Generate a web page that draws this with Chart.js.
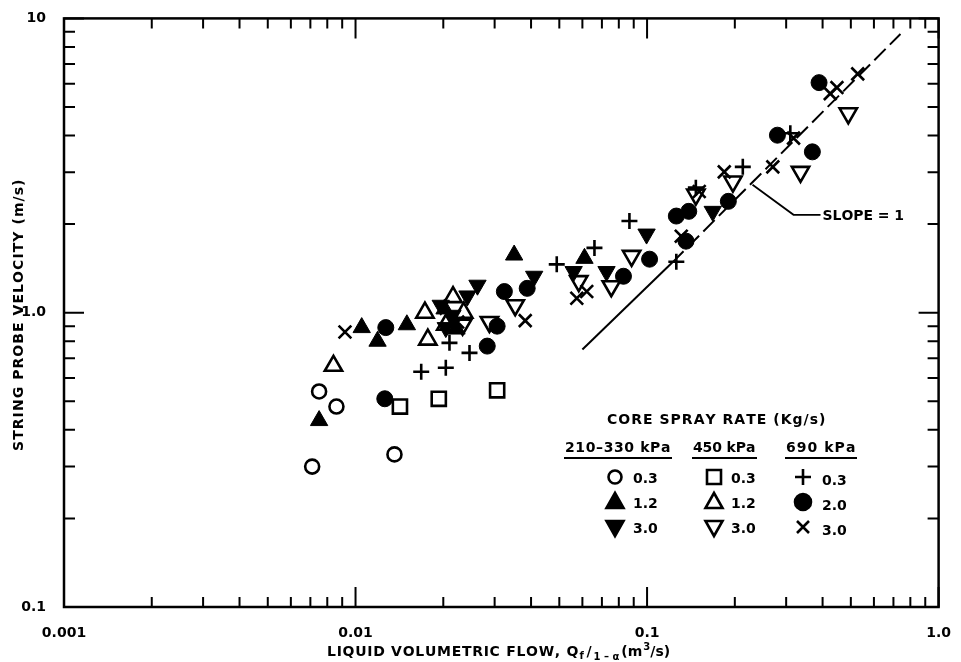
<!DOCTYPE html>
<html>
<head>
<meta charset="utf-8">
<script src="https://cdn.jsdelivr.net/npm/chart.js@4"></script>
<style>
html,body{margin:0;padding:0;background:#fff}
canvas{display:block}
</style>
</head>
<body>
<canvas id="probeChart" width="961" height="662"></canvas>
<script>
// axis ticks
const xTicks = [0.001, 0.01, 0.1, 1]
const xTickLabels = ["0.001", "0.01", "0.1", "1.0"]
const yTicks = [0.1, 1, 10]
const yTickLabels = ["0.1", "1.0", "10"]
const minorSteps = [2, 3, 4, 5, 6, 7, 8, 9]

// 210-330 kPa
const circ210X = [0.0075, 0.0086, 0.0071, 0.0136]
const circ210Y = [0.54, 0.48, 0.30, 0.33]
const triUp210X = [0.0075, 0.0105, 0.0119, 0.0150, 0.0202, 0.0222, 0.0350, 0.0610]
const triUp210Y = [0.43, 0.89, 0.80, 0.91, 1.03, 0.88, 1.57, 1.53]
const triDn210X = [0.0196, 0.0204, 0.0215, 0.0242, 0.0262, 0.0410, 0.0560, 0.0726, 0.0996, 0.168]
const triDn210Y = [1.06, 0.89, 0.98, 1.14, 1.24, 1.33, 1.38, 1.38, 1.85, 2.21]

// 450 kPa
const sq450X = [0.0142, 0.0193, 0.0306]
const sq450Y = [0.48, 0.51, 0.545]
const triUp450X = [0.0084, 0.0173, 0.0177, 0.0216, 0.0235, 0.0204]
const triUp450Y = [0.66, 1.00, 0.81, 1.13, 1.00, 0.91]
const triDn450X = [0.0233, 0.0288, 0.0353, 0.0583, 0.0754, 0.0885, 0.147, 0.197, 0.336, 0.490]
const triDn450Y = [0.91, 0.93, 1.06, 1.28, 1.23, 1.56, 2.52, 2.79, 3.01, 4.76]

// 690 kPa
const plus690X = [0.0168, 0.0204, 0.0246, 0.0210, 0.0490, 0.0660, 0.0870, 0.126, 0.147, 0.213, 0.310]
const plus690Y = [0.63, 0.65, 0.73, 0.79, 1.46, 1.66, 2.05, 1.49, 2.66, 3.13, 4.07]
const dot690X = [0.0126, 0.0127, 0.0283, 0.0306, 0.0324, 0.0388, 0.083, 0.102, 0.126, 0.139, 0.136, 0.190, 0.280, 0.369, 0.389]
const dot690Y = [0.51, 0.89, 0.77, 0.90, 1.18, 1.21, 1.33, 1.52, 2.13, 2.21, 1.75, 2.39, 4.01, 3.52, 6.05]
const x690X = [0.0092, 0.0224, 0.0382, 0.0574, 0.0621, 0.131, 0.151, 0.184, 0.270, 0.318, 0.425, 0.448, 0.528]
const x690Y = [0.86, 0.93, 0.94, 1.12, 1.18, 1.82, 2.58, 3.01, 3.13, 3.92, 5.55, 5.82, 6.48]

// slope = 1 reference line
const slopeSolidX = [0.060, 0.122]
const slopeSolidY = [0.75, 1.48]
const slopeDashX = [0.122, 0.740]
const slopeDashY = [1.48, 8.85]
const slopeLabelAt = [0.23, 2.72]

const FONT = '"DejaVu Sans", sans-serif'

function pts(xs, ys) {
  return xs.map((v, i) => ({x: v, y: ys[i]}))
}

function marks(xs, ys, style, radius, filled, rotation) {
  return {
    data: pts(xs, ys),
    pointStyle: style,
    pointRadius: radius,
    pointRotation: rotation || 0,
    pointBackgroundColor: filled ? "#000" : "rgba(0,0,0,0)",
    pointBorderColor: "#000",
    pointBorderWidth: filled ? 1 : 2.6,
    showLine: false
  }
}

function spaced(ctx, text, x, y, width) {
  const chars = [...text]
  const natural = ctx.measureText(text).width
  const gap = chars.length > 1 ? (width - natural) / (chars.length - 1) : 0
  let cx = x
  chars.forEach(c => {
    ctx.fillText(c, cx, y)
    cx += ctx.measureText(c).width + gap
  })
  return cx - gap
}

function symbol(ctx, kind, x, y) {
  ctx.save()
  ctx.translate(x, y)
  ctx.beginPath()
  let fill = false
  if (kind == "circle") { ctx.arc(0, 0, 6.5, 0, Math.PI * 2) }
  if (kind == "dot") { ctx.arc(0, 0, 8, 0, Math.PI * 2); fill = true }
  if (kind == "square") { ctx.rect(-7, -7, 14, 14) }
  if (kind == "up" || kind == "upFill" || kind == "down" || kind == "downFill") {
    const s = kind.startsWith("down") ? -1 : 1
    ctx.moveTo(0, -9 * s)
    ctx.lineTo(8.5, 6 * s)
    ctx.lineTo(-8.5, 6 * s)
    ctx.closePath()
    fill = kind.endsWith("Fill")
  }
  if (kind == "plus") { ctx.moveTo(-8, 0); ctx.lineTo(8, 0); ctx.moveTo(0, -8); ctx.lineTo(0, 8) }
  if (kind == "cross") { ctx.moveTo(-6, -6); ctx.lineTo(6, 6); ctx.moveTo(6, -6); ctx.lineTo(-6, 6) }
  ctx.lineWidth = 2.6
  if (fill) ctx.fill()
  ctx.stroke()
  ctx.restore()
}

const decor = {
  id: "decor",
  afterDraw(chart) {
    const {ctx, chartArea: a, scales: {x, y}} = chart
    ctx.save()
    ctx.strokeStyle = "#000"
    ctx.fillStyle = "#000"

    // frame and inward ticks
    ctx.lineWidth = 2.5
    ctx.strokeRect(a.left, a.top, a.right - a.left, a.bottom - a.top)
    ctx.lineWidth = 2
    ctx.beginPath()
    xTicks.forEach((v, i) => {
      const vals = [[v, 20]]
      if (i < xTicks.length - 1) minorSteps.forEach(m => vals.push([v * m, 10]))
      vals.forEach(([val, len]) => {
        const px = x.getPixelForValue(val)
        ctx.moveTo(px, a.bottom); ctx.lineTo(px, a.bottom - len)
        ctx.moveTo(px, a.top); ctx.lineTo(px, a.top + len)
      })
    })
    yTicks.forEach((v, i) => {
      const vals = [[v, 20]]
      if (i < yTicks.length - 1) minorSteps.forEach(m => vals.push([v * m, 11]))
      vals.forEach(([val, len]) => {
        const py = y.getPixelForValue(val)
        ctx.moveTo(a.left, py); ctx.lineTo(a.left + len, py)
        ctx.moveTo(a.right, py); ctx.lineTo(a.right - len, py)
      })
    })
    ctx.stroke()

    // axis titles
    ctx.textBaseline = "alphabetic"
    ctx.textAlign = "left"
    ctx.font = "bold 14px " + FONT
    ctx.save()
    ctx.translate(23, 451)
    ctx.rotate(-Math.PI / 2)
    spaced(ctx, "STRING PROBE VELOCITY (m/s)", 0, 0, 271)
    ctx.restore()

    let cx = spaced(ctx, "LIQUID VOLUMETRIC FLOW, Q", 327, 656, 249)
    ctx.font = "bold 10px " + FONT
    ctx.fillText("f", cx + 1, 659)
    cx += 8
    ctx.font = "bold 14px " + FONT
    ctx.fillText("/", cx, 656)
    cx += ctx.measureText("/").width + 2
    ctx.font = "bold 10px " + FONT
    ctx.fillText("1 \u2013 \u03b1", cx, 660)
    cx += ctx.measureText("1 \u2013 \u03b1").width + 2
    ctx.font = "bold 14px " + FONT
    ctx.fillText("(m", cx, 656)
    cx += ctx.measureText("(m").width
    ctx.font = "bold 10px " + FONT
    ctx.fillText("3", cx + 1, 650)
    cx += 8
    ctx.font = "bold 14px " + FONT
    ctx.fillText("/s)", cx, 656)

    // slope annotation
    const sx = x.getPixelForValue(slopeLabelAt[0])
    const sy = y.getPixelForValue(slopeLabelAt[1])
    ctx.lineWidth = 1.8
    ctx.beginPath()
    ctx.moveTo(sx, sy)
    ctx.lineTo(sx + 41, sy + 30)
    ctx.lineTo(sx + 68, sy + 30)
    ctx.stroke()
    spaced(ctx, "SLOPE = 1", sx + 70, sy + 35, 81)

    // legend
    spaced(ctx, "CORE SPRAY RATE (Kg/s)", 607, 424, 216)
    const heads = [["210\u2013330 kPa", 565, 105], ["450 kPa", 693, 62], ["690 kPa", 786, 69]]
    ctx.lineWidth = 2
    heads.forEach(([t, hx, w]) => {
      spaced(ctx, t, hx, 452, w)
      ctx.beginPath()
      ctx.moveTo(hx - 1, 458); ctx.lineTo(hx + w + 2, 458)
      ctx.stroke()
    })
    const rows = [
      [["circle", "0.3"], ["square", "0.3"], ["plus", "0.3"]],
      [["upFill", "1.2"], ["up", "1.2"], ["dot", "2.0"]],
      [["downFill", "3.0"], ["down", "3.0"], ["cross", "3.0"]]
    ]
    const symX = [615, 714, 803]
    const txtX = [633, 731, 822]
    rows.forEach((row, r) => {
      const ry = 477 + r * 25
      row.forEach(([kind, t], c) => {
        symbol(ctx, kind, symX[c], ry)
        ctx.fillText(t, txtX[c], ry + 6 + (c == 2 ? 2 : 0))
      })
    })
    ctx.restore()
  }
}

new Chart(document.getElementById("probeChart"), {
  type: "scatter",
  data: {
    datasets: [
      marks(circ210X, circ210Y, "circle", 7, false),
      marks(triUp210X, triUp210Y, "triangle", 10, true),
      marks(triDn210X, triDn210Y, "triangle", 10, true, 180),
      marks(sq450X, sq450Y, "rect", 10, false),
      marks(triUp450X, triUp450Y, "triangle", 10, false),
      marks(triDn450X, triDn450Y, "triangle", 10, false, 180),
      marks(plus690X, plus690Y, "cross", 8, false),
      marks(dot690X, dot690Y, "circle", 8, true),
      marks(x690X, x690Y, "crossRot", 9, false),
      {
        type: "line",
        data: pts(slopeSolidX, slopeSolidY),
        borderColor: "#000",
        borderWidth: 2,
        pointRadius: 0,
        showLine: true
      },
      {
        type: "line",
        data: pts(slopeDashX, slopeDashY),
        borderColor: "#000",
        borderWidth: 2,
        borderDash: [16, 6],
        pointRadius: 0,
        showLine: true
      }
    ]
  },
  options: {
    responsive: false,
    devicePixelRatio: 1,
    animation: false,
    layout: {padding: {top: 12, right: 17, left: 0, bottom: 0}},
    plugins: {legend: {display: false}, tooltip: {enabled: false}},
    scales: {
      x: {
        type: "logarithmic",
        min: 0.001,
        max: 1,
        grid: {display: false},
        border: {display: false},
        afterBuildTicks: s => { s.ticks = xTicks.map(v => ({value: v})) },
        afterFit: s => { s.height = 55 },
        ticks: {
          color: "#000",
          padding: 10,
          maxRotation: 0,
          font: {family: FONT, size: 14, weight: "bold"},
          callback: (v, i) => xTickLabels[i]
        }
      },
      y: {
        type: "logarithmic",
        min: 0.1,
        max: 10,
        grid: {display: false},
        border: {display: false},
        afterBuildTicks: s => { s.ticks = yTicks.map(v => ({value: v})) },
        afterFit: s => { s.width = 64 },
        ticks: {
          color: "#000",
          padding: 10,
          font: {family: FONT, size: 14, weight: "bold"},
          callback: (v, i) => yTickLabels[i]
        }
      }
    }
  },
  plugins: [decor]
})
</script>
</body>
</html>
